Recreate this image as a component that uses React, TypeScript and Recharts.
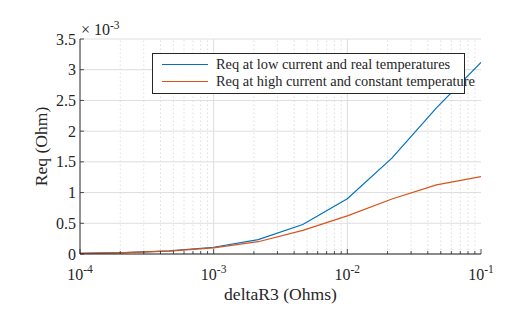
import {
  LineChart,
  Line,
  XAxis,
  YAxis,
  CartesianGrid,
  ReferenceLine,
  Legend,
} from 'recharts';

// deltaR3 sweep (Ohms), 3 points per decade
const deltaR3 = [1e-4, 2.154e-4, 4.642e-4, 1e-3, 2.154e-3, 4.642e-3, 1e-2, 2.154e-2, 4.642e-2, 1e-1];
// Req in units of 1e-3 Ohm
const reqLowCurrent = [0.01, 0.024, 0.052, 0.11, 0.235, 0.48, 0.9, 1.56, 2.38, 3.12];
const reqHighCurrent = [0.01, 0.022, 0.048, 0.1, 0.2, 0.385, 0.62, 0.895, 1.125, 1.26];

const seriesNames = [
  'Req at low current and real temperatures',
  'Req at high current and constant temperature',
];

const decades = [1e-4, 1e-3, 1e-2, 1e-1];
const decadeExp = ['-4', '-3', '-2', '-1'];
const minorSteps = [2, 3, 4, 5, 6, 7, 8, 9];
const minorTicks = decades.slice(0, 3).flatMap((d) => minorSteps.map((m) => m * d));
const xTicks = [...decades, ...minorTicks].sort((a, b) => a - b);
const yTicks = [0, 0.5, 1, 1.5, 2, 2.5, 3, 3.5];
const yTickLabels = ['0', '0.5', '1', '1.5', '2', '2.5', '3', '3.5'];

const data = deltaR3.map((x, i) => ({
  x,
  low: reqLowCurrent[i],
  high: reqHighCurrent[i],
}));

const FONT = 'Liberation Serif, Times New Roman, serif';
const AXIS = '#262626';
const GRID = '#dedede';

const isDecade = (v: number) => decades.some((d) => Math.abs(d - v) / d < 1e-6);

const BottomTick = (props: any) => {
  const { x, y, payload } = props;
  const major = isDecade(payload.value);
  const idx = decades.findIndex((d) => Math.abs(d - payload.value) / d < 1e-6);
  return (
    <g>
      <line x1={x} x2={x} y1={y} y2={y - (major ? 5 : 3)} stroke={AXIS} strokeWidth={0.8} />
      {major && (
        <text x={x} y={y + 26} textAnchor="middle" style={{ fontFamily: FONT }} fontSize={16} fill={AXIS}>
          <tspan>10</tspan>
          <tspan dy={-7} fontSize={11.5}>{decadeExp[idx]}</tspan>
        </text>
      )}
    </g>
  );
};

const TopTick = (props: any) => {
  const { x, y, payload } = props;
  const major = isDecade(payload.value);
  return <line x1={x} x2={x} y1={y} y2={y + (major ? 5 : 3)} stroke={AXIS} strokeWidth={0.8} />;
};

const LeftTick = (props: any) => {
  const { x, y, index } = props;
  return (
    <g>
      <line x1={x} x2={x + 4} y1={y} y2={y} stroke={AXIS} strokeWidth={0.8} />
      <text x={x - 4} y={y + 5.5} textAnchor="end" style={{ fontFamily: FONT }} fontSize={16} fill={AXIS}>
        {yTickLabels[index]}
      </text>
    </g>
  );
};

const RightTick = (props: any) => {
  const { x, y } = props;
  return <line x1={x} x2={x - 4} y1={y} y2={y} stroke={AXIS} strokeWidth={0.8} />;
};

const YLabel = (props: any) => {
  const { viewBox } = props;
  const cx = viewBox.x + 7;
  const cy = viewBox.y + viewBox.height / 2;
  return (
    <g>
      <text
        x={cx}
        y={cy}
        transform={`rotate(-90, ${cx}, ${cy})`}
        textAnchor="middle"
        style={{ fontFamily: FONT }}
        fontSize={17.6}
        fill={AXIS}
      >
        Req (Ohm)
      </text>
      <text x={viewBox.x + viewBox.width + 1} y={viewBox.y - 4} style={{ fontFamily: FONT }} fontSize={16} fill={AXIS}>
        <tspan>× 10</tspan>
        <tspan dy={-6} fontSize={11.5}>-3</tspan>
      </text>
    </g>
  );
};

const XLabel = (props: any) => {
  const { viewBox } = props;
  return (
    <text
      x={viewBox.x + viewBox.width / 2}
      y={viewBox.y + 46}
      textAnchor="middle"
      style={{ fontFamily: FONT }}
      fontSize={17.6}
      fill={AXIS}
    >
      deltaR3 (Ohms)
    </text>
  );
};

const renderLegend = (props: any) => {
  const { payload } = props;
  const items = seriesNames
    .map((name) => payload.find((p: any) => p.value === name))
    .filter(Boolean);
  return (
    <div
      style={{
        width: 311,
        height: 37,
        border: '1px solid #262626',
        background: '#fff',
        fontFamily: FONT,
        fontSize: 14.4,
        color: AXIS,
        whiteSpace: 'nowrap',
        paddingTop: 2,
        boxSizing: 'content-box',
      }}
    >
      {items.map((entry: any) => (
        <div key={entry.value} style={{ display: 'flex', alignItems: 'center', height: 17 }}>
          <span
            style={{
              display: 'inline-block',
              flexShrink: 0,
              width: 46,
              height: 0,
              borderTop: `1.3px solid ${entry.color}`,
              marginLeft: 9,
              marginRight: 8,
            }}
          />
          <span>{entry.value}</span>
        </div>
      ))}
    </div>
  );
};

export default function App() {
  return (
    <div style={{ width: 508, height: 315, background: '#fff' }}>
      <style>{'body{margin:0}'}</style>
      <LineChart width={508} height={315} data={data} margin={{ top: 39, right: 27, left: 40, bottom: 31 }}>
        <CartesianGrid vertical={false} stroke={GRID} strokeWidth={1} />
        {minorTicks.map((v) => (
          <ReferenceLine key={`m${v}`} x={v} stroke={GRID} strokeDasharray="1.5 2.5" strokeWidth={1} />
        ))}
        {decades.slice(1, 3).map((v) => (
          <ReferenceLine key={`d${v}`} x={v} stroke={GRID} strokeWidth={1} />
        ))}
        <XAxis
          dataKey="x"
          type="number"
          scale="log"
          domain={[1e-4, 1e-1]}
          allowDataOverflow
          ticks={xTicks}
          interval={0}
          tickSize={0}
          tickMargin={0}
          tick={<BottomTick />}
          height={30}
          stroke={AXIS}
          label={<XLabel />}
        />
        <XAxis
          xAxisId="top"
          dataKey="x"
          type="number"
          scale="log"
          domain={[1e-4, 1e-1]}
          allowDataOverflow
          orientation="top"
          ticks={xTicks}
          interval={0}
          tickSize={0}
          tickMargin={0}
          tick={<TopTick />}
          height={0}
          stroke={AXIS}
        />
        <YAxis
          type="number"
          domain={[0, 3.5]}
          ticks={yTicks}
          interval={0}
          tickSize={0}
          tickMargin={0}
          tick={<LeftTick />}
          width={40}
          stroke={AXIS}
          label={<YLabel />}
        />
        <YAxis
          yAxisId="right"
          orientation="right"
          type="number"
          domain={[0, 3.5]}
          ticks={yTicks}
          interval={0}
          tickSize={0}
          tickMargin={0}
          tick={<RightTick />}
          width={0}
          stroke={AXIS}
        />
        <Line
          dataKey="low"
          name={seriesNames[0]}
          stroke="#0072BD"
          strokeWidth={1.2}
          dot={false}
          isAnimationActive={false}
        />
        <Line
          dataKey="high"
          name={seriesNames[1]}
          stroke="#D95319"
          strokeWidth={1.2}
          dot={false}
          isAnimationActive={false}
        />
        <Legend
          layout="vertical"
          align="center"
          verticalAlign="middle"
          content={renderLegend}
          wrapperStyle={{ top: 53, left: 152, width: 'auto' }}
        />
      </LineChart>
    </div>
  );
}
